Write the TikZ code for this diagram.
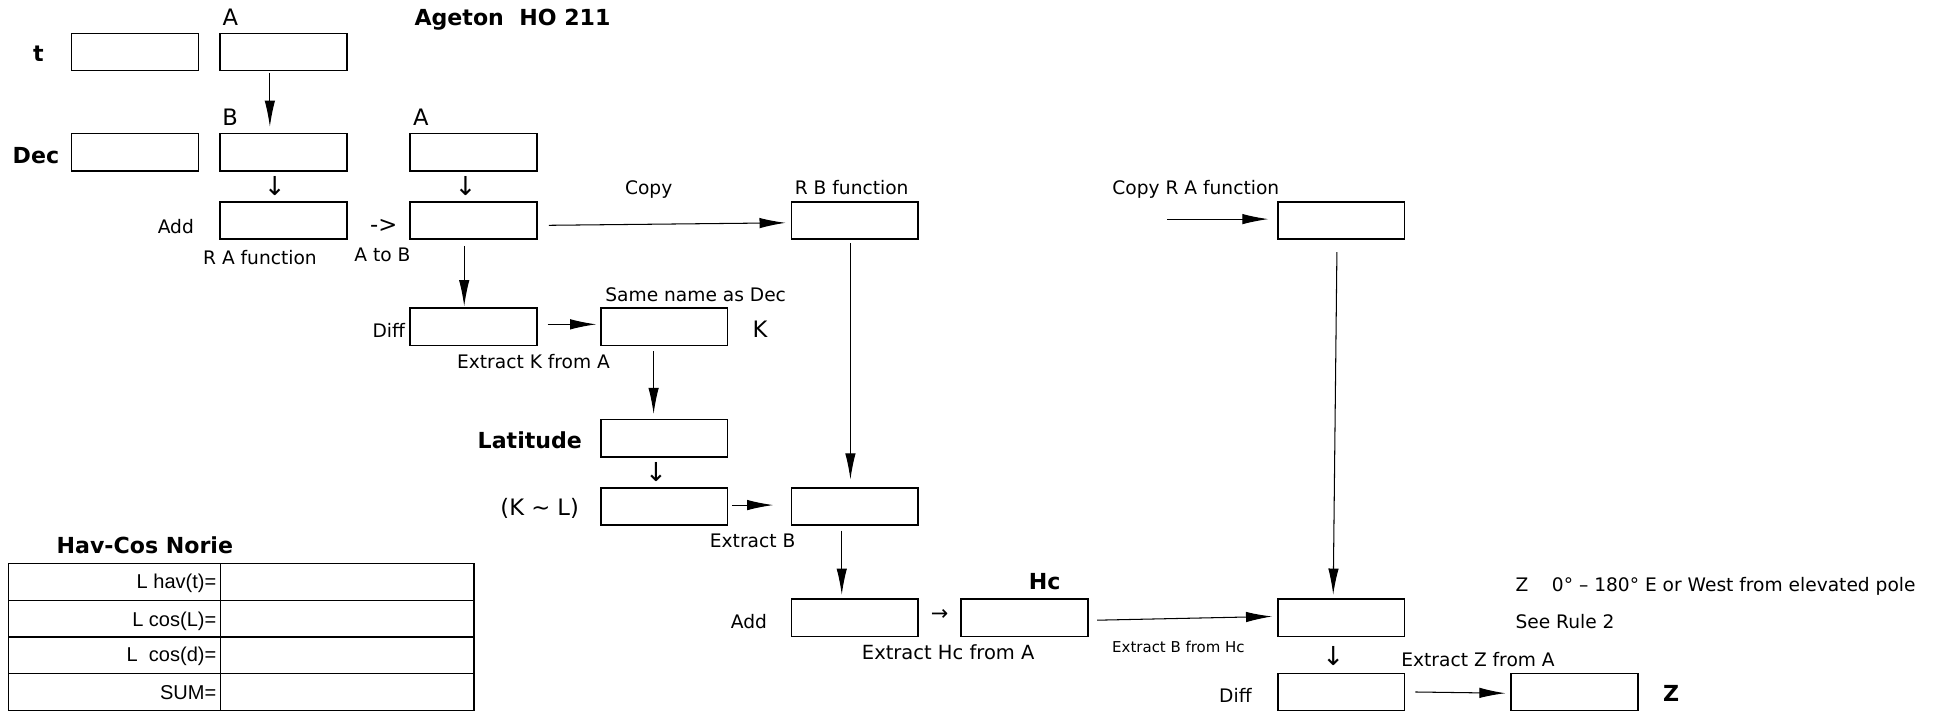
\documentclass[tikz,border=0pt]{standalone}
\usepackage{fontspec}
\setmainfont{DejaVu Sans}
\newfontfamily\tabfont{Liberation Sans}
\usetikzlibrary{arrows.meta,calc}
\begin{document}
\begin{tikzpicture}[x=0.025cm,y=-0.025cm,
  box/.style={draw, line width=0.9pt, minimum width=2.56cm, minimum height=0.75cm, inner sep=0pt},
  arr/.style={line width=0.6pt, -{Latex[length=15pt,width=6pt]}},
  lbl/.style={inner sep=0pt, anchor=base, yshift=-3.9pt, font=\fontsize{10.7}{12}\selectfont},
  big/.style={inner sep=0pt, anchor=base, yshift=-4.75pt, font=\fontsize{13}{15}\selectfont},
  glyph/.style={inner sep=0pt, anchor=center, font=\fontsize{15}{17}\selectfont},
  blbl/.style={inner sep=0pt, anchor=base, yshift=-4.6pt, font=\fontsize{12.7}{14}\selectfont\bfseries},
  slbl/.style={inner sep=0pt, anchor=base, yshift=-3.1pt, font=\fontsize{8.6}{10}\selectfont},
  tlbl/.style={inner sep=0pt, anchor=base east, yshift=-4.1pt, font=\tabfont\fontsize{11.5}{13}\selectfont},
]
\path[use as bounding box] (0,0) rectangle (1568,575);

% boxes
\node[box] (t1) at (109,42) {};
\node[box] (tA) at (229,42) {};
\node[box] (dec1) at (109,123) {};
\node[box] (decB) at (229,123) {};
\node[box] (decA) at (382.5,123) {};
\node[box] (addRA) at (229,178) {};
\node[box] (atoB) at (382.5,178) {};
\node[box] (rb) at (690.5,178) {};
\node[box] (cra) at (1083.5,178) {};
\node[box] (diff1) at (382.5,264) {};
\node[box] (k) at (536.5,264) {};
\node[box] (lat) at (536.5,354) {};
\node[box] (kl) at (536.5,409) {};
\node[box] (exb) at (690.5,409) {};
\node[box] (add2) at (690.5,499) {};
\node[box] (hc) at (827.5,499) {};
\node[box] (exbhc) at (1083.5,499) {};
\node[box] (diff2) at (1083.5,559) {};
\node[box] (z) at (1272,559) {};

% labels
\node[big] (lA1) at (186,14) {A};
\node[blbl] (lt) at (31,43) {t};
\node[blbl] (ltitle) at (414,14) {Ageton\ \ HO 211};
\node[big] (lB) at (186,95) {B};
\node[big] (lA2) at (340,95) {A};
\node[blbl] (ldec) at (29,126) {Dec};
\node[glyph] (ld1) at (222,150) {↓};
\node[glyph] (ld2) at (376,150) {↓};
\node[lbl] (ladd1) at (142,183) {Add};
\node[big] (lto) at (310,181) {->};
\node[lbl] (lraf) at (210,208) {R A function};
\node[lbl] (latob) at (309,206) {A to B};
\node[lbl] (lcopy) at (524,152) {Copy};
\node[lbl] (lrbf) at (688,152) {R B function};
\node[lbl] (lcraf) at (966,152) {Copy R A function};
\node[lbl] (lsame) at (562,238) {Same name as Dec};
\node[lbl] (ldiff1) at (314,267) {Diff};
\node[big] (lK) at (614,266) {K};
\node[lbl] (lexk) at (431,292) {Extract K from A};
\node[blbl] (llat) at (428,356) {Latitude};
\node[glyph] (ld3) at (530,381) {↓};
\node[big] (lkl) at (436,410) {(K \char`~\ L)};
\node[lbl] (lexb) at (608,437) {Extract B};
\node[blbl] (lhav) at (117,441) {Hav-Cos Norie};
\node[lbl] (ladd2) at (605,502) {Add};
\node[inner sep=0pt, font=\fontsize{12}{14}\selectfont] (lr) at (759,497) {→};
\node[blbl] (lhc) at (844,470) {Hc};
\node[lbl, font=\fontsize{11.2}{13}\selectfont] (lexhc) at (766,527) {Extract Hc from A};
\node[slbl] (lexbhc) at (952,523) {Extract B from Hc};
\node[lbl, anchor=base west] (lzrange) at (1224,472) {Z\ \ \ \ 0° – 180° E or West from elevated pole};
\node[lbl, anchor=base west] (lrule) at (1224,502) {See Rule 2};
\node[glyph] (ld4) at (1077,530) {↓};
\node[lbl] (lexz) at (1194,533) {Extract Z from A};
\node[lbl] (ldiff2) at (998,562) {Diff};
\node[blbl] (lZ) at (1350,560) {Z};

% arrows
\coordinate (craIn) at (943,177);
\draw[arr] ($(tA.south)+(-11,1)$) -- ($(decB.north)+(-11,-5)$);
\draw[arr] ($(atoB.east)+(9,4)$) -- ($(rb.west)+(-4,2)$);
\draw[arr] (craIn) -- ($(cra.west)+(-7,-1)$);
\draw[arr] ($(atoB.south)+(-7.5,5)$) -- ($(diff1.north)+(-7.5,-1)$);
\draw[arr] ($(diff1.east)+(8,-2)$) -- ($(k.west)+(-3,-2)$);
\draw[arr] ($(k.south)+(-8.5,4)$) -- ($(lat.north)+(-8.5,-4)$);
\draw[arr] ($(kl.east)+(3,-1)$) -- ($(exb.west)+(-14,-1)$);
\draw[arr] ($(rb.south)+(-3.5,3)$) -- ($(exb.north)+(-3.5,-6)$);
\draw[arr] ($(exb.south)+(-10.5,4)$) -- ($(add2.north)+(-10.5,-3)$);
\draw[arr] ($(hc.east)+(7,2)$) -- ($(exbhc.west)+(-4,-1)$);
\draw[arr] ($(cra.south)+(-3.5,10)$) -- ($(exbhc.north)+(-6.5,-3)$);
\draw[arr] ($(diff2.east)+(8,0)$) -- ($(z.west)+(-4,1)$);

% table
\draw[line width=0.8pt] (7,455) rectangle (383,574);
\draw[line width=0.8pt] (7,485) -- (383,485) (7,514.5) -- (383,514.5) (7,544) -- (383,544) (178,455) -- (178,574);
\node[tlbl] (th1) at (175,470) {L hav(t)=};
\node[tlbl] (th2) at (175,500) {L cos(L)=};
\node[tlbl] (th3) at (175,529) {L\ \ cos(d)=};
\node[tlbl] (th4) at (175,559) {SUM=};
\end{tikzpicture}
\end{document}
